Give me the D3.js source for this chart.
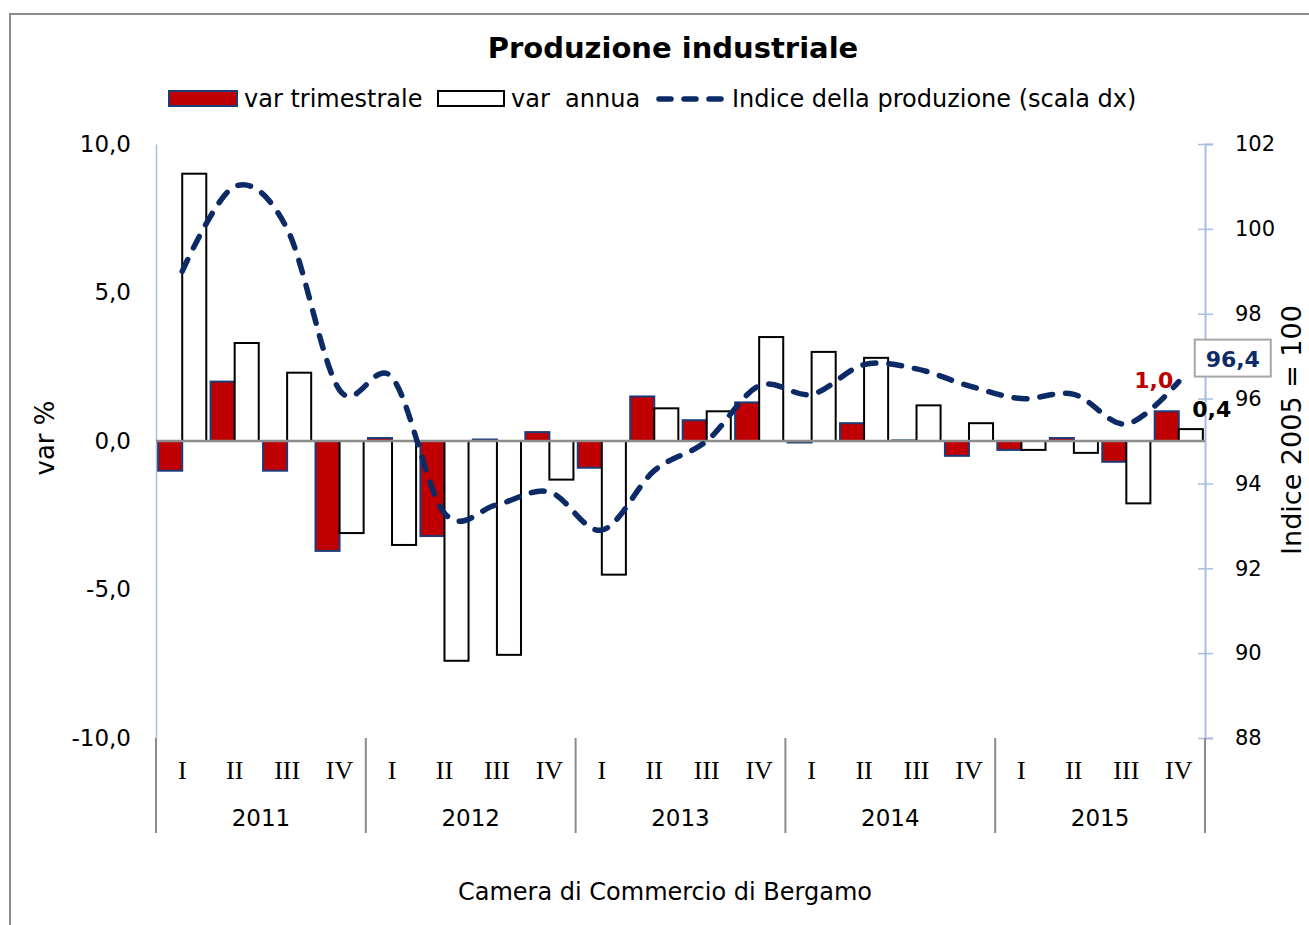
<!DOCTYPE html>
<html>
<head>
<meta charset="utf-8">
<script src="https://cdn.jsdelivr.net/npm/d3@7"></script>
<style>
  body { margin: 0; background: #fff; }
  text { font-family: "DejaVu Sans", Verdana, sans-serif; }
</style>
</head>
<body>
<script>
// data
var years = ["2011", "2012", "2013", "2014", "2015"];
var quarters = ["I", "II", "III", "IV"];
var varTrim = [-1.0, 2.0, -1.0, -3.7, 0.1, -3.2, 0.05, 0.3, -0.9, 1.5, 0.7, 1.3, -0.05, 0.6, 0.02, -0.5, -0.3, 0.1, -0.7, 1.0];
var varAnnua = [9.0, 3.3, 2.3, -3.1, -3.5, -7.4, -7.2, -1.3, -4.5, 1.1, 1.0, 3.5, 3.0, 2.8, 1.2, 0.6, -0.3, -0.4, -2.1, 0.4];
var indice = [99.0, 101.0, 100.0, 96.2, 96.5, 93.3, 93.5, 93.8, 92.9, 94.3, 95.0, 96.3, 96.1, 96.8, 96.7, 96.3, 96.0, 96.1, 95.4, 96.4];
var leftTicks = [-10, -5, 0, 5, 10];
var rightTicks = [88, 90, 92, 94, 96, 98, 100, 102];

var svgWidth = 1309, svgHeight = 925;
var margin = { top: 144, left: 156, right: 104, bottom: 187 };
var width = svgWidth - margin.left - margin.right;
var height = svgHeight - margin.top - margin.bottom;

var navy = "#0c2b66";
var red = "#c00000";

var svg = d3.select("body").append("svg")
  .attr("width", svgWidth)
  .attr("height", svgHeight);

// outer frame
svg.append("rect")
  .attr("x", 10).attr("y", 14)
  .attr("width", svgWidth + 20).attr("height", svgHeight + 20)
  .attr("fill", "none").attr("stroke", "#8c8c8c").attr("stroke-width", 2);

var chart = svg.append("g")
  .attr("transform", `translate(${margin.left}, ${margin.top})`);

// categories: one per quarter
var cats = [];
years.forEach(function(y) {
  quarters.forEach(function(q) { cats.push(y + "-" + q); });
});

var x0 = d3.scaleBand().domain(cats).range([0, width]).padding(0);
var x1 = d3.scaleBand().domain(["trim", "annua"]).range([0, x0.bandwidth()])
  .paddingInner(0).paddingOuter(0.09);
var yL = d3.scaleLinear().domain([-10, 10]).range([height, 0]);
var yR = d3.scaleLinear().domain([88, 102]).range([height, 0]);

var fmt = function(d) { return d3.format(".1f")(d).replace(".", ",").replace("−", "-"); };

// left axis
var leftAxis = d3.axisLeft(yL).tickValues(leftTicks).tickSize(0).tickPadding(25).tickFormat(fmt);
var gl = chart.append("g").call(leftAxis);
gl.select(".domain").attr("stroke", "#a9bde3").attr("stroke-width", 1.5);
gl.selectAll("text").style("font-size", "23px").style("fill", "#000");

// right axis
var rightAxis = d3.axisRight(yR).tickValues(rightTicks).tickSize(8).tickPadding(22);
var gr = chart.append("g").attr("transform", `translate(${width}, 0)`).call(rightAxis);
gr.select(".domain").attr("stroke", "#a9bde3").attr("stroke-width", 2);
gr.selectAll(".tick line").attr("x1", -7).attr("x2", 8).attr("stroke", "#a9bde3").attr("stroke-width", 1.5);
gr.selectAll("text").style("font-size", "21px").style("fill", "#000");

// bars
var g = chart.append("g");
g.selectAll(".trim").data(varTrim).enter().append("rect")
  .attr("x", (d, i) => x0(cats[i]) + x1("trim"))
  .attr("width", x1.bandwidth())
  .attr("y", d => yL(Math.max(0, d)))
  .attr("height", d => Math.max(Math.abs(yL(d) - yL(0)), 0.5))
  .attr("fill", red).attr("stroke", "#1f3a78").attr("stroke-width", 2);

g.selectAll(".annua").data(varAnnua).enter().append("rect")
  .attr("x", (d, i) => x0(cats[i]) + x1("annua"))
  .attr("width", x1.bandwidth())
  .attr("y", d => yL(Math.max(0, d)))
  .attr("height", d => Math.abs(yL(d) - yL(0)))
  .attr("fill", "#fff").attr("stroke", "#000").attr("stroke-width", 2);

// zero line
chart.append("line")
  .attr("x1", 0).attr("x2", width)
  .attr("y1", yL(0)).attr("y2", yL(0))
  .attr("stroke", "#8c8c8c").attr("stroke-width", 2.5);

// index line
var line = d3.line()
  .x((d, i) => x0(cats[i]) + x0.bandwidth() / 2)
  .y(d => yR(d))
  .curve(d3.curveCatmullRom.alpha(0));

chart.append("path")
  .datum(indice)
  .attr("d", line)
  .attr("fill", "none")
  .attr("stroke", navy)
  .attr("stroke-width", 5.5)
  .attr("stroke-linecap", "round")
  .attr("stroke-dasharray", "13,13");

// category axis (two levels)
var catG = chart.append("g").attr("transform", `translate(0, ${height})`);
cats.forEach(function(c, i) {
  catG.append("text")
    .attr("x", x0(c) + x0.bandwidth() / 2)
    .attr("y", 41)
    .attr("text-anchor", "middle")
    .style("font-family", "'Liberation Serif', 'Times New Roman', serif")
    .style("font-size", "26px")
    .text(quarters[i % 4]);
});
years.forEach(function(y) {
  var xs = x0(y + "-I");
  var xe = x0(y + "-IV") + x0.bandwidth();
  catG.append("text")
    .attr("x", (xs + xe) / 2)
    .attr("y", 88)
    .attr("text-anchor", "middle")
    .style("font-size", "23px")
    .text(y);
});
d3.range(years.length + 1).forEach(function(j) {
  var xx = j * 4 * x0.step();
  catG.append("line")
    .attr("x1", xx).attr("x2", xx)
    .attr("y1", 0).attr("y2", 95)
    .attr("stroke", "#8c8c8c").attr("stroke-width", 2);
});

// data labels on last quarter
var last = cats.length - 1;
chart.append("text")
  .attr("x", x0(cats[last]) + x1("trim") + x1.bandwidth() / 2 - 13)
  .attr("y", yL(varTrim[last]) - 23)
  .attr("text-anchor", "middle")
  .style("font-size", "22px").style("font-weight", "bold")
  .style("fill", red)
  .text(fmt(varTrim[last]));

chart.append("text")
  .attr("x", x0(cats[last]) + x1("annua") + x1.bandwidth() / 2 + 21)
  .attr("y", yL(varAnnua[last]) - 12)
  .attr("text-anchor", "middle")
  .style("font-size", "22px").style("font-weight", "bold")
  .style("fill", "#000")
  .text(fmt(varAnnua[last]));

var lx = x0(cats[last]) + x0.bandwidth() / 2 + 54;
var ly = yR(indice[last]) - 24;
chart.append("rect")
  .attr("x", lx - 38).attr("y", ly - 18)
  .attr("width", 76).attr("height", 37)
  .attr("fill", "#fff").attr("stroke", "#a6a6a6").attr("stroke-width", 2);
chart.append("text")
  .attr("x", lx).attr("y", ly + 9)
  .attr("text-anchor", "middle")
  .style("font-size", "22px").style("font-weight", "bold")
  .style("fill", navy)
  .text(fmt(indice[last]));

// axis titles
svg.append("text")
  .attr("transform", "translate(54, 438) rotate(-90)")
  .attr("text-anchor", "middle")
  .style("font-size", "26px")
  .text("var %");

svg.append("text")
  .attr("transform", "translate(1301, 430) rotate(-90)")
  .attr("text-anchor", "middle")
  .style("font-size", "27px")
  .text("Indice 2005 = 100");

// title
svg.append("text")
  .attr("x", 673).attr("y", 58)
  .attr("text-anchor", "middle")
  .style("font-size", "29px").style("font-weight", "bold")
  .text("Produzione industriale");

// legend
var leg = svg.append("g");
leg.append("rect").attr("x", 169).attr("y", 91).attr("width", 68).attr("height", 15)
  .attr("fill", red).attr("stroke", "#1f3a78").attr("stroke-width", 2);
leg.append("text").attr("x", 244).attr("y", 107).style("font-size", "24px").text("var trimestrale");
leg.append("rect").attr("x", 438).attr("y", 91).attr("width", 66).attr("height", 15)
  .attr("fill", "#fff").attr("stroke", "#000").attr("stroke-width", 2);
leg.append("text").attr("x", 511).attr("y", 107).style("font-size", "24px")
  .style("white-space", "pre").text("var  annua");
leg.append("line").attr("x1", 659).attr("x2", 722).attr("y1", 99).attr("y2", 99)
  .attr("stroke", navy).attr("stroke-width", 5.5).attr("stroke-linecap", "round")
  .attr("stroke-dasharray", "12,13");
leg.append("text").attr("x", 732).attr("y", 107).style("font-size", "24px")
  .text("Indice della produzione (scala dx)");

// source
svg.append("text")
  .attr("x", 665).attr("y", 900)
  .attr("text-anchor", "middle")
  .style("font-size", "24px")
  .text("Camera di Commercio di Bergamo");
</script>
</body>
</html>
